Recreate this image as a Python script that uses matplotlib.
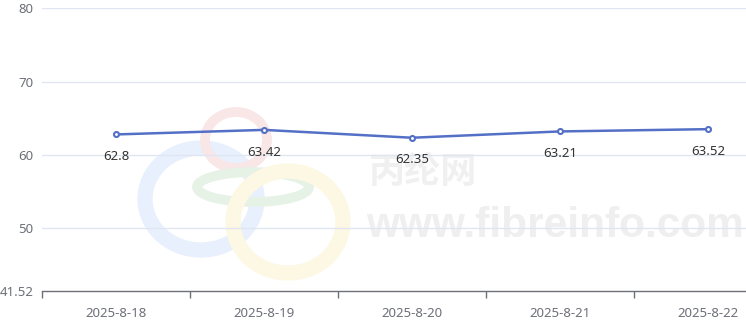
import matplotlib.pyplot as plt
from matplotlib.patches import Ellipse

plt.rcParams['font.family'] = ['Noto Sans', 'Noto Sans CJK SC', 'DejaVu Sans']

dates = ['2025-8-18', '2025-8-19', '2025-8-20', '2025-8-21', '2025-8-22']
prices = [62.8, 63.42, 62.35, 63.21, 63.52]
y_ticks = [41.52, 50, 60, 70, 80]

line_color = '#5470c6'
axis_color = '#6e7079'
grid_color = '#e0e6f1'


def add_watermark(fig):
    # faint logo rings + site name behind the plot
    rings = [
        ((201, 199), 112, 102, '#e8f0fd', 11),
        ((236, 140), 62, 56, '#f9e6e6', 7),
        ((253, 187), 112, 30, '#e6f2e6', 7),
        ((288, 222), 110, 102, '#fdf8e4', 11),
    ]
    for (cx, cy), w, h, c, lw in rings:
        e = Ellipse((cx / 746, 1 - cy / 330), w / 746, h / 330, transform=fig.transFigure,
                    fill=False, edgecolor=c, lw=lw, zorder=-2)
        fig.add_artist(e)
    fig.text(369 / 746, 1 - 172 / 330, '丙纶网', fontsize=26, fontweight='bold',
             color='#f0f0f0', va='center', ha='left', family=['Noto Sans CJK SC'], zorder=-2)
    fig.text(366 / 746, 1 - 226 / 330, 'www.fibreinfo.com', fontsize=30.5, fontweight='bold',
             color='#efefef', va='center', ha='left', family=['Liberation Sans'], zorder=-2)


def main():
    fig = plt.figure(figsize=(7.46, 3.30), dpi=100)
    add_watermark(fig)
    ax = fig.add_axes([42 / 746, 1 - 290.5 / 330, 740 / 746, 282.2 / 330])
    ax.patch.set_alpha(0)

    x = list(range(len(dates)))
    ax.plot(x, prices, color=line_color, lw=1.8, marker='o', ms=3.6,
            mfc='white', mec=line_color, mew=1.5, zorder=3)
    for xi, v in zip(x, prices):
        ax.annotate(f'{v}', (xi, v), xytext=(0, -16), textcoords='offset points',
                    ha='center', va='center', fontsize=9.5, color='#333333', zorder=4)

    ax.set_xlim(-0.5, len(dates) - 0.5)
    ax.set_ylim(y_ticks[0], y_ticks[-1])
    ax.set_yticks(y_ticks)
    ax.set_yticklabels([f'{t:g}' for t in y_ticks])
    ax.set_xticks(x)
    ax.set_xticklabels(dates)
    ax.set_xticks([i - 0.5 for i in range(len(dates) + 1)], minor=True)
    ax.tick_params(axis='x', which='major', length=0, pad=12, labelsize=9.5, labelcolor=axis_color)
    ax.tick_params(axis='x', which='minor', length=5, color=axis_color, width=1)
    ax.tick_params(axis='y', length=0, pad=6, labelsize=9.5, labelcolor=axis_color)

    for t in y_ticks[1:]:
        ax.axhline(t, color=grid_color, lw=1, zorder=1)
    for s in ['top', 'right', 'left']:
        ax.spines[s].set_visible(False)
    ax.spines['bottom'].set_color(axis_color)
    ax.spines['bottom'].set_linewidth(1)

    fig.savefig('out.png', dpi=100)


if __name__ == "__main__":
    main()
